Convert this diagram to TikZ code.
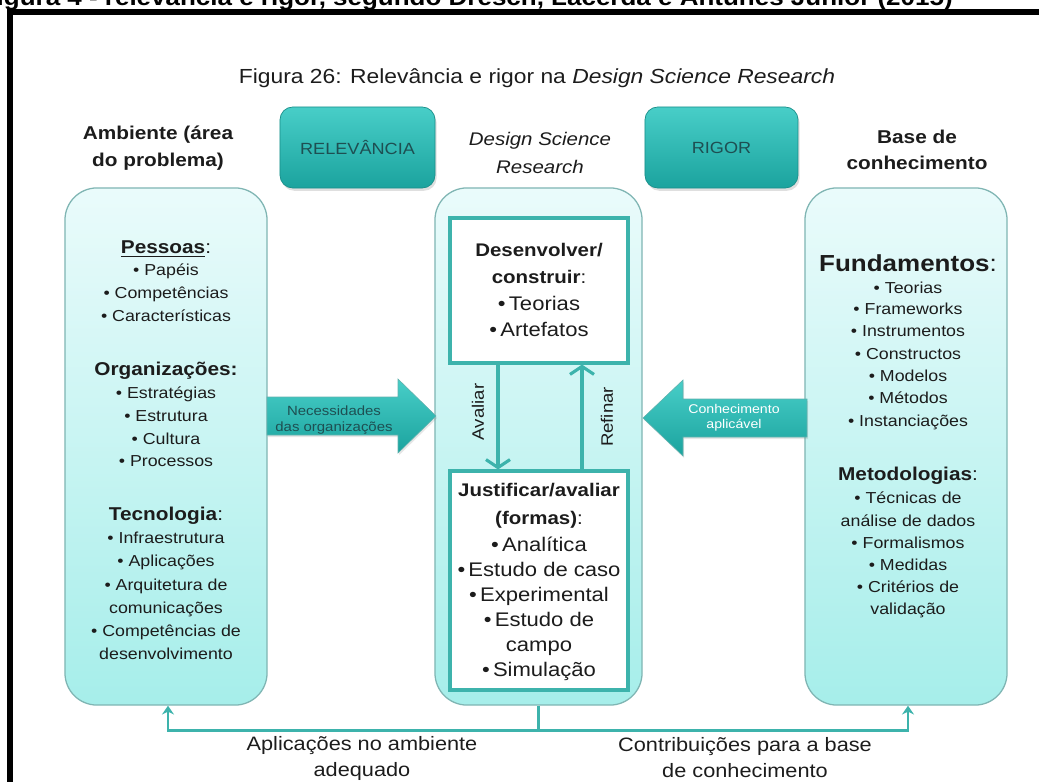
\documentclass[tikz,border=0pt]{standalone}
\usepackage{fontspec}
\setmainfont{Liberation Sans}[FakeStretch=1.12]
\usetikzlibrary{arrows.meta,shadows}
\definecolor{tealtop}{HTML}{48CEC8}
\definecolor{tealbot}{HTML}{1BA39E}
\definecolor{tealedge}{HTML}{1A8F8A}
\definecolor{boxtop}{HTML}{EAFBFB}
\definecolor{boxbot}{HTML}{A6EEEA}
\definecolor{boxedge}{HTML}{7FB5B3}
\definecolor{tline}{HTML}{3DB3AC}
\definecolor{ink}{HTML}{1C1C1C}
\definecolor{tealink}{HTML}{1E4F52}
\newcommand\fitem{\fontsize{11.3}{14}\selectfont}
\newcommand\citem{\fontsize{14}{16}\selectfont}
\newcommand\hdc[1]{{\fontsize{13.2}{16}\selectfont\textbf{#1}:}}
\newcommand\hdb[1]{{\fontsize{13.2}{16}\selectfont\textbf{#1}}}
\newcommand\chd[1]{{\fontsize{13}{16}\selectfont\textbf{#1}}}
\newcommand\chc[1]{{\fontsize{13}{16}\selectfont\textbf{#1}:}}
\tikzset{
  bigbox/.style={draw=boxedge, line width=0.9pt, rounded corners=0.8cm, top color=boxtop, bottom color=boxbot},
  tealbox/.style={draw=tealedge, line width=0.5pt, rounded corners=0.32cm, top color=tealtop, bottom color=tealbot,
    text=tealink, font=\fontsize{11.5}{14}\selectfont,
    drop shadow={shadow xshift=0.04cm, shadow yshift=-0.07cm, opacity=0.25}},
  innerbox/.style={draw=tline, line width=2.2pt, fill=white},
  flow/.style={draw=tline, line width=2.2pt, -{Straight Barb[length=0.2cm, width=0.6cm]}},
  fb/.style={draw=tline, line width=2pt},
  fbarrow/.style={fb, -{Stealth[length=0.22cm, width=0.3cm]}},
  bigarrow/.style={draw=tealedge!70, line width=0.4pt, top color=tealtop, bottom color=tealbot,
    drop shadow={shadow xshift=0.03cm, shadow yshift=-0.05cm, opacity=0.2}},
  item/.style={anchor=mid, font=\fitem, text=ink, inner sep=0pt},
  citemst/.style={anchor=mid, font=\citem, text=ink, inner sep=0pt},
  hdr/.style={align=center, font=\bfseries\fontsize{13.2}{19}\selectfont, text=ink},
  lab/.style={align=center, font=\fontsize{13.8}{18.5}\selectfont, text=ink, inner sep=1pt},
}
\begin{document}
\begin{tikzpicture}[x=0.025cm, y=-0.025cm]
\useasboundingbox (0,0) rectangle (1039,782);

% frame and cut title
\draw[line width=4.25pt] (10,800) -- (10,12) -- (1060,12);
\node[anchor=base east, inner sep=0pt, font=\bfseries\fontsize{16.5}{18}\selectfont] (title) at (953,6)
  {Figura 4 - relevância e rigor, segundo Dresch, Lacerda e Antunes Júnior (2015)};

\node[font=\fontsize{14.5}{16}\selectfont, text=ink] (sub) at (537,78)
  {Figura 26: Relevância e rigor na \textit{Design Science Research}};

% headers
\node[hdr] (henv) at (158,148) {Ambiente (área\\do problema)};
\node[tealbox, minimum width=3.875cm, minimum height=2.025cm] (rel) at (357.5,147.5) {RELEVÂNCIA};
\node[align=center, font=\itshape\fontsize{13}{20}\selectfont, text=ink] (hdsr) at (540,153) {Design Science\\Research};
\node[tealbox, minimum width=3.825cm, minimum height=2.025cm] (rig) at (721.5,147.5) {RIGOR};
\node[hdr] (hkb) at (917,150) {Base de\\conhecimento};

% big boxes
\node[bigbox, minimum width=5.05cm, minimum height=12.925cm] (env) at (166,446.5) {};
\node[bigbox, minimum width=5.175cm, minimum height=12.925cm] (dsr) at (538.5,446.5) {};
\node[bigbox, minimum width=5.05cm, minimum height=12.925cm] (kb) at (906,446.5) {};

% inner boxes
\node[innerbox, minimum width=4.45cm, minimum height=3.625cm] (dev) at (539,290.5) {};
\node[innerbox, minimum width=4.45cm, minimum height=5.475cm] (just) at (539,580.5) {};

% evaluate / refine
\draw[flow] ([xshift=-1.025cm]dev.south) -- ([xshift=-1.025cm]just.north);
\draw[flow] ([xshift=1.075cm]just.north) -- ([xshift=1.075cm]dev.south);
\node[rotate=90, font=\fontsize{11.8}{14}\selectfont, text=ink] (aval) at (478,412) {Avaliar};
\node[rotate=90, font=\fontsize{11.8}{14}\selectfont, text=ink] (refi) at (607,417) {Refinar};

% big arrows (shapes)
\path[bigarrow] (267,397) -- (398,397) -- (398,379) -- (436,416) -- (398,453) -- (398,435) -- (267,435) -- cycle;
\node[align=center, font=\fontsize{9.5}{11.3}\selectfont, text=tealink] (needst) at (334,420) {Necessidades\\das organizações};
\path[bigarrow] (807,399) -- (683,399) -- (683,380) -- (643,418) -- (683,456) -- (683,437) -- (807,437) -- cycle;
\node[align=center, font=\fontsize{9}{10.5}\selectfont, text=white] (knowt) at (734,418) {Conhecimento\\aplicável};

% left column text
\foreach \yy/\txt [count=\i] in {
  250/{\hdc{\underline{Pessoas}}},
  272/{• Papéis},
  295/{• Competências},
  318/{• Características},
  372/{\hdb{Organizações:}},
  395/{• Estratégias},
  418/{• Estrutura},
  441/{• Cultura},
  463/{• Processos},
  517/{\hdc{Tecnologia}},
  540/{• Infraestrutura},
  563/{• Aplicações},
  587/{• Arquitetura de},
  610/{comunicações},
  633/{• Competências de},
  656/{desenvolvimento}}
  {\node[item] (L\i) at (166,\yy) {\txt};}

% right column text
\foreach \yy/\txt [count=\i] in {
  268/{{\fontsize{16.5}{18}\selectfont\textbf{Fundamentos}:}},
  290/{• Teorias},
  311/{• Frameworks},
  333/{• Instrumentos},
  356/{• Constructos},
  378/{• Modelos},
  400/{• Métodos},
  423/{• Instanciações},
  477/{\hdc{Metodologias}},
  500/{• Técnicas de},
  523/{análise de dados},
  545/{• Formalismos},
  567/{• Medidas},
  589/{• Critérios de},
  611/{validação}}
  {\node[item] (R\i) at (908,\yy) {\txt};}

% centre text
\foreach \yy/\txt [count=\i] in {
  253/{\chd{Desenvolver/}},
  280/{\chc{construir}},
  307/{•\,Teorias},
  333/{•\,Artefatos},
  493/{\chd{Justificar/avaliar}},
  521/{\chc{(formas)}},
  548/{•\,Analítica},
  573/{•\,Estudo de caso},
  598/{•\,Experimental},
  623/{•\,Estudo de},
  648/{campo},
  673/{•\,Simulação}}
  {\node[citemst] (C\i) at (539,\yy) {\txt};}

% feedback connectors
\coordinate (fork) at ([yshift=-0.625cm]dsr.south);
\draw[fb] (dsr.south) -- (fork);
\draw[fbarrow] (fork) -| ([xshift=0.05cm]env.south);
\draw[fbarrow] (fork) -| ([xshift=0.05cm]kb.south);

\node[lab] (app) at (362,758) {Aplicações no ambiente\\adequado};
\node[lab] (contr) at (745,758) {Contribuições para a base\\de conhecimento};
\end{tikzpicture}
\end{document}
